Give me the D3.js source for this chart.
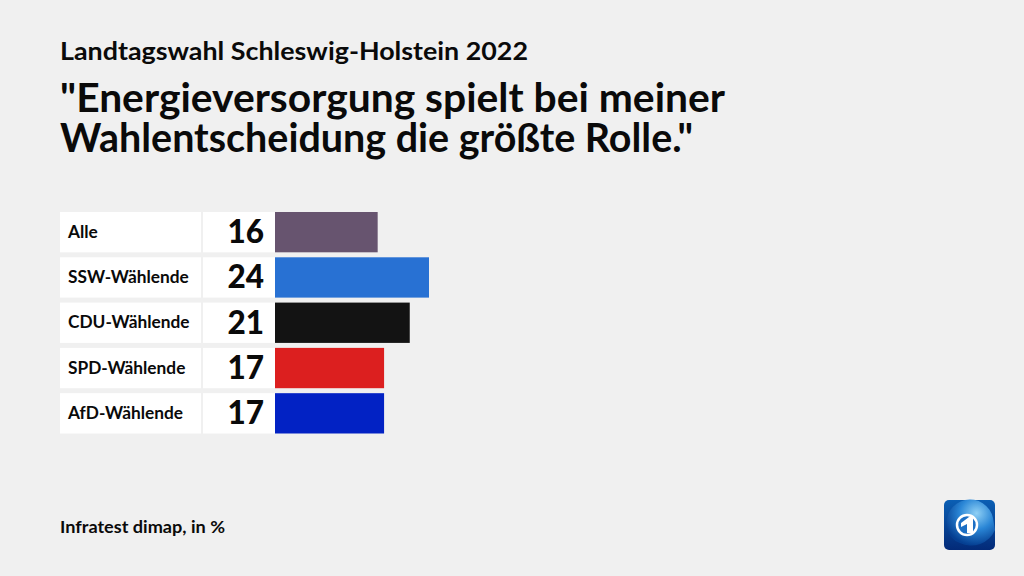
<!DOCTYPE html>
<html>
  <head>
    <meta charset="utf-8">
    <title>Landtagswahl Schleswig-Holstein 2022</title>
    <script src="https://d3js.org/d3.v7.min.js"></script>
    <style>
      html, body { margin: 0; padding: 0; background: #f0f0f0; overflow: hidden; }
      text { font-family: Lato, "Noto Sans", sans-serif; fill: #0a0a0a; }
      .kicker { font-size: 25px; font-weight: 700; }
      .title { font-size: 41px; font-weight: 700; }
      .label { font-size: 17.3px; font-weight: 700; }
      .value { font-size: 31.5px; font-weight: 900; }
      .source { font-size: 17.5px; font-weight: 700; }
    </style>
  </head>
  <body>
    <script>
      var categories = ["Alle", "SSW-Wählende", "CDU-Wählende", "SPD-Wählende", "AfD-Wählende"];
      var values = [16, 24, 21, 17, 17];
      var colors = ["#67546f", "#2871d3", "#131313", "#dc1f1f", "#0222c4"];
      var titleLines = ["\"Energieversorgung spielt bei meiner", "Wahlentscheidung die größte Rolle.\""];

      var width = 1024;
      var height = 576;

      var svg = d3.select("body")
        .append("svg")
        .attr("width", width)
        .attr("height", height)
        .style("display", "block");

      var xScale = d3.scaleLinear()
        .domain([0, 24])
        .range([275, 429]);

      var yScale = d3.scaleBand()
        .domain(categories)
        .range([212, 433.5])
        .paddingInner(0.11);

      // headline
      svg.append("text")
        .attr("class", "kicker")
        .attr("x", 60)
        .attr("y", 60)
        .attr("textLength", 468)
        .attr("lengthAdjust", "spacingAndGlyphs")
        .text("Landtagswahl Schleswig-Holstein 2022");

      svg.selectAll(".title")
        .data(titleLines)
        .enter()
        .append("text")
        .attr("class", "title")
        .attr("x", 60)
        .attr("y", function(d, i) { return 112 + i * 40; })
        .attr("textLength", function(d, i) { return i == 0 ? 665 : 633; })
        .attr("lengthAdjust", "spacingAndGlyphs")
        .text(function(d) { return d; });

      // rows
      var rows = svg.selectAll(".row")
        .data(categories)
        .enter()
        .append("g")
        .attr("class", "row");

      rows.append("rect")
        .attr("x", 60)
        .attr("y", function(d) { return yScale(d); })
        .attr("width", 141)
        .attr("height", yScale.bandwidth())
        .attr("fill", "#ffffff");

      rows.append("rect")
        .attr("x", 203)
        .attr("y", function(d) { return yScale(d); })
        .attr("width", 72)
        .attr("height", yScale.bandwidth())
        .attr("fill", "#ffffff");

      rows.append("text")
        .attr("class", "label")
        .attr("x", 68)
        .attr("y", function(d) { return yScale(d) + yScale.bandwidth() / 2 + 5.5; })
        .text(function(d) { return d; });

      rows.append("text")
        .attr("class", "value")
        .attr("x", 264)
        .attr("y", function(d) { return yScale(d) + yScale.bandwidth() / 2 + 11; })
        .attr("text-anchor", "end")
        .text(function(d, i) { return values[i]; });

      rows.append("rect")
        .attr("x", xScale(0))
        .attr("y", function(d) { return yScale(d); })
        .attr("width", function(d, i) { return xScale(values[i]) - xScale(0); })
        .attr("height", yScale.bandwidth())
        .attr("fill", function(d, i) { return colors[i]; });

      svg.append("text")
        .attr("class", "source")
        .attr("x", 60)
        .attr("y", 533)
        .attr("textLength", 165)
        .attr("lengthAdjust", "spacingAndGlyphs")
        .text("Infratest dimap, in %");

      // tagesschau logo
      var defs = svg.append("defs");
      var bg = defs.append("linearGradient")
        .attr("id", "logoBg")
        .attr("x1", 0).attr("y1", 0).attr("x2", 0).attr("y2", 1);
      bg.append("stop").attr("offset", "0%").attr("stop-color", "#0b5fb4");
      bg.append("stop").attr("offset", "100%").attr("stop-color", "#032a78");

      var globe = defs.append("radialGradient")
        .attr("id", "logoGlobe")
        .attr("cx", "62%").attr("cy", "30%").attr("r", "70%");
      globe.append("stop").attr("offset", "0%").attr("stop-color", "#8fd0f5");
      globe.append("stop").attr("offset", "50%").attr("stop-color", "#2a86d6");
      globe.append("stop").attr("offset", "100%").attr("stop-color", "#053f92");

      var logo = svg.append("g");
      logo.append("rect")
        .attr("x", 944).attr("y", 500)
        .attr("width", 51).attr("height", 50)
        .attr("rx", 5)
        .attr("fill", "url(#logoBg)");
      logo.append("path")
        .attr("d", "M947 528 A23 23 0 0 1 993 518 L995 530 A26 26 0 0 1 960 543 A20 20 0 0 1 947 528 Z")
        .attr("fill", "url(#logoGlobe)");
      logo.append("circle")
        .attr("cx", 967).attr("cy", 525)
        .attr("r", 10)
        .attr("fill", "#1c6fc4")
        .attr("stroke", "#ffffff")
        .attr("stroke-width", 2.5);
      logo.append("path")
        .attr("d", "M961 523 L969 517 L973 517 L973 533 L967 533 L967 524 L961 527 Z")
        .attr("fill", "#ffffff");
    </script>
  </body>
</html>
